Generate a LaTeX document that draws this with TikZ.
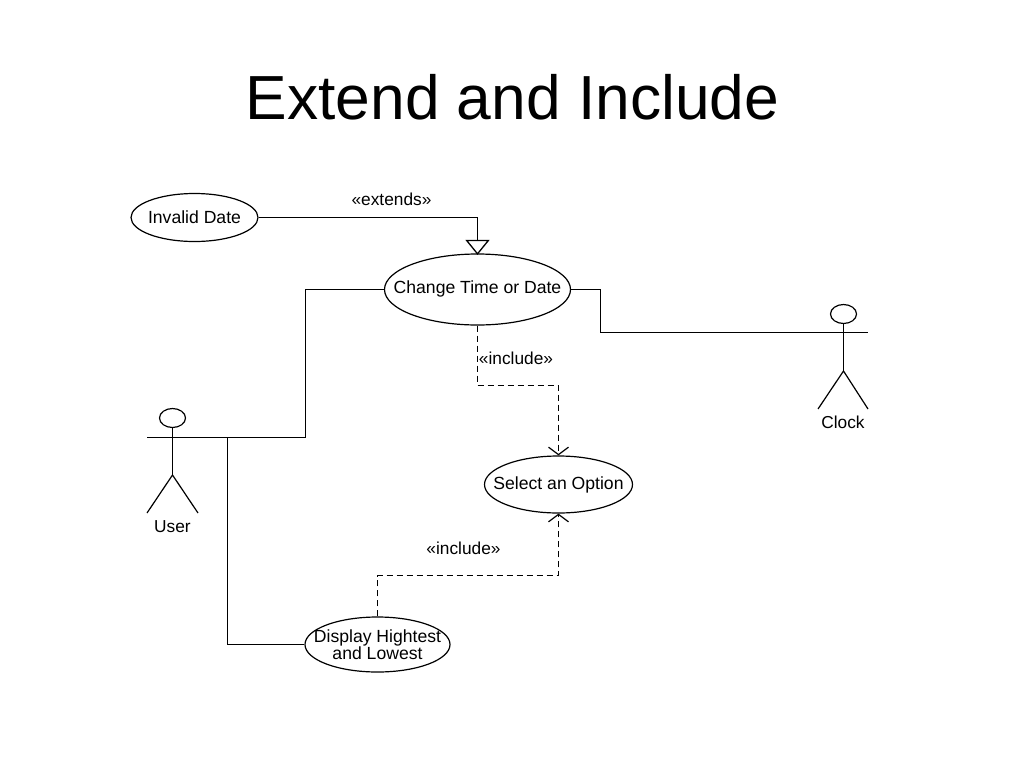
\documentclass[tikz,border=0pt]{standalone}
\usepackage{fontspec}
\setmainfont{Liberation Sans}
\usetikzlibrary{shapes.geometric,arrows.meta,calc}
\tikzset{
  lbl/.style={inner sep=0pt,font=\fontsize{17.3}{15.5}\selectfont,align=center},
  uclbl/.style={inner sep=0pt,font=\fontsize{17.6}{15.5}\selectfont,align=center},
  uc/.style={draw=black,line width=1.2pt,ellipse,inner sep=0pt},
  conn/.style={draw=black,line width=1.2pt},
  dep/.style={conn,dash pattern=on 6.5pt off 3.5pt},
  open barb/.style={-{Straight Barb[length=7.5pt,width=20pt,line width=1.2pt]}},
  gen/.style={shorten >=-1.5pt,-{Triangle[open,fill=white,length=15pt,width=24pt,line width=1.3pt]}},
  head/.style={draw=black,line width=1.2pt,ellipse,inner sep=0pt,minimum width=26pt,minimum height=19pt},
  limb/.style={draw=black,line width=1.2pt}
}
\begin{document}
\begin{tikzpicture}[x=1pt,y=-1pt]
\useasboundingbox (0,0) rectangle (1024,768);
\node[inner sep=0pt,font=\fontsize{62.3}{66}\selectfont] (title) at (512.5,97) {Extend and Include};

\node[uc,minimum width=127pt,minimum height=48pt,label={[uclbl]center:Invalid Date}] (invalid) at (194.5,217.5) {};
\node[uc,minimum width=186pt,minimum height=71pt,label={[uclbl,yshift=0.5pt]center:Change Time or Date}] (change) at (477.5,289.5) {};
\node[uc,minimum width=148pt,minimum height=57pt,label={[uclbl]center:Select an Option}] (select) at (558.5,484.5) {};
\node[uc,minimum width=145pt,minimum height=55pt,label={[uclbl]center:Display Hightest\\and Lowest}] (display) at (377.5,644.5) {};

% User actor
\node[head] (uhead) at (172.5,418) {};
\coordinate (uarml) at (147,437.5);
\coordinate (uarmr) at (198,437.5);
\coordinate (uhip) at (172.5,475);
\coordinate (ulegl) at (147,513);
\coordinate (ulegr) at (198,513);
\draw[limb] (uhead.south) -- (uhip);
\draw[limb] (uarml) -- (uarmr);
\draw[limb] (ulegl) -- (uhip) -- (ulegr);
\node[lbl] (ulabel) at (172.5,527) {User};

% Clock actor
\node[head] (chead) at (843.5,314) {};
\coordinate (carml) at (818,332.5);
\coordinate (carmr) at (868,332.5);
\coordinate (chip) at (843.5,371);
\coordinate (clegl) at (818,409);
\coordinate (clegr) at (868,409);
\draw[limb] (chead.south) -- (chip);
\draw[limb] (carml) -- (carmr);
\draw[limb] (clegl) -- (chip) -- (clegr);
\node[lbl] (clabel) at (843,422) {Clock};

% Connectors
\coordinate (extbend) at (477.5,217.5);
\draw[conn,gen] (invalid.east) -- (extbend) -- (change.north);
\coordinate (ubend) at (305.5,437.5);
\coordinate (ubendtop) at (305.5,289.5);
\draw[conn] (change.west) -- (ubendtop) -- (ubend) -- (uarmr);
\coordinate (cbendtop) at (600.5,289.5);
\coordinate (cbend) at (600.5,332.5);
\draw[conn] (change.east) -- (cbendtop) -- (cbend) -- (carml);
\coordinate (d1) at (477.5,385.5);
\coordinate (d2) at (558.5,385.5);
\draw[dep,open barb] (change.south) -- (d1) -- (d2) -- (select.north);
\coordinate (e1) at (377.5,575.5);
\coordinate (e2) at (558.5,575.5);
\draw[dep,open barb] (display.north) -- (e1) -- (e2) -- (select.south);
\coordinate (f1) at (227.5,437.5);
\coordinate (f2) at (227.5,644.5);
\draw[conn] (f1) -- (f2) -- (display.west);

% Connector labels
\node[lbl] (lext) at (391.5,199) {«extends»};
\node[lbl] (linc1) at (516,358) {«include»};
\node[lbl] (linc2) at (463.5,548) {«include»};
\end{tikzpicture}
\end{document}
